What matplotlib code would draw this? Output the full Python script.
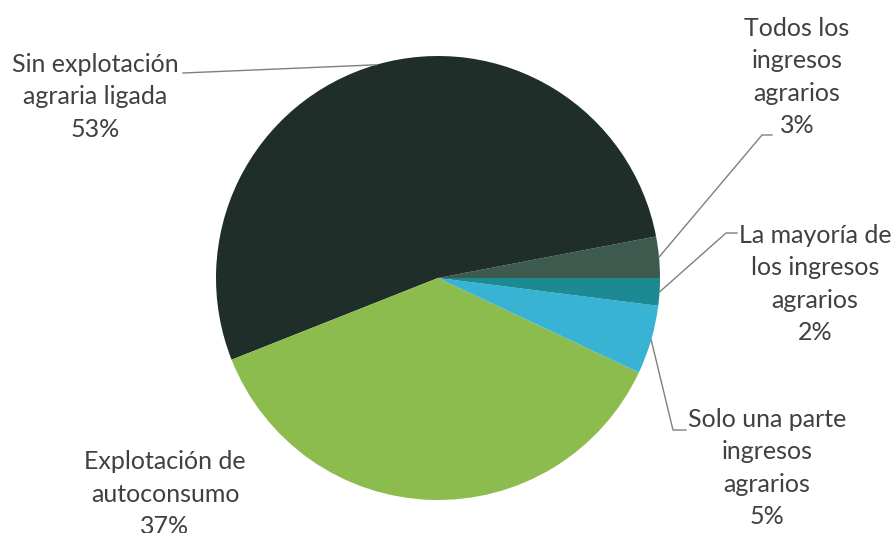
import matplotlib
matplotlib.use("Agg")
import matplotlib.pyplot as plt
import numpy as np

categories = ["Todos los\ningresos\nagrarios", "Sin explotación\nagraria ligada",
              "Explotación de\nautoconsumo", "Solo una parte\ningresos\nagrarios",
              "La mayoría de\nlos ingresos\nagrarios"]
values = [3, 53, 37, 5, 2]
colors = ["#3d5a4f", "#1f2e29", "#8cbb4e", "#39b3d4", "#1b8a92"]

W, H = 894, 533
fig = plt.figure(figsize=(W / 100, H / 100), dpi=100)
ax = fig.add_axes([0, 0, 1, 1])

cx, cy, R = 438, H - 278, 222
wedges, _ = ax.pie(values, colors=colors, startangle=0, counterclock=True,
                   center=(cx, cy), radius=R, frame=True,
                   wedgeprops=dict(linewidth=0))
ax.set_xlim(0, W)
ax.set_ylim(0, H)
ax.set_aspect("equal")
ax.axis("off")

# label block centers and leader-line text-side points (pixel coords, y down)
label_pos = [(797, 77), (95, 97), (165, 494), (767, 468), (815, 284)]
leader = [
    [(762, 135), (772, 135)],
    [(183, 73)],
    None,
    [(673, 430), (686, 430)],
    [(726, 233), (737, 233)],
]

txt_color = "#404040"
for w, cat, v, (lx, ly), ld in zip(wedges, categories, values, label_pos, leader):
    ax.text(lx, H - ly, f"{cat}\n{v}%", ha="center", va="center",
            fontsize=18, color=txt_color, family="Lato", linespacing=1.5)
    if ld is not None:
        mid = np.deg2rad((w.theta1 + w.theta2) / 2)
        px, py = cx + R * np.cos(mid), cy + R * np.sin(mid)
        xs = [px] + [p[0] for p in ld]
        ys = [py] + [H - p[1] for p in ld]
        ax.plot(xs, ys, color="#7f7f7f", lw=1.0)

fig.savefig("out.png", dpi=100)
